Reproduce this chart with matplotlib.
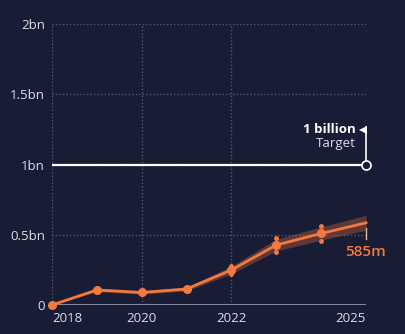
import matplotlib
matplotlib.use("Agg")
import matplotlib.pyplot as plt

years = [2018, 2019, 2020, 2021, 2022, 2023, 2024, 2025]
values = [0.0, 0.107, 0.089, 0.114, 0.249, 0.427, 0.509, 0.585]
band_low = [0.0, 0.095, 0.077, 0.100, 0.222, 0.385, 0.462, 0.532]
band_high = [0.0, 0.119, 0.101, 0.128, 0.276, 0.469, 0.556, 0.638]
err_years = [2022, 2023, 2024]
err_low = [0.220, 0.380, 0.456]
err_high = [0.280, 0.474, 0.562]
target = 1.0
y_ticks = [0, 0.5, 1, 1.5, 2]
y_labels = ["0", "0.5bn", "1bn", "1.5bn", "2bn"]
x_ticks = [2018, 2020, 2022, 2025]
x_labels = ["2018", "2020", "2022", "2025"]

BG = "#181c35"
ORANGE = "#f4793e"
TXT = "#dcdfe8"
GRID = "#50577a"

plt.rcParams["font.family"] = ["Open Sans", "DejaVu Sans"]

fig = plt.figure(figsize=(4.06, 3.34), dpi=100, facecolor=BG)
ax = fig.add_axes([52/406, 29/334, 314/406, 281/334], facecolor=BG)
ax.set_xlim(2018, 2025)
ax.set_ylim(0, 2)
for s in ax.spines.values():
    s.set_visible(False)

for yt in y_ticks[1:]:
    ax.axhline(yt, color=GRID, lw=1, ls=(0, (1, 1.5)), zorder=1)
for xt in x_ticks:
    ax.axvline(xt, color=GRID, lw=1, ls=(0, (1, 1.5)), zorder=1)
ax.axhline(0, color="#858898", lw=1.5, zorder=2)

ax.set_yticks(y_ticks)
ax.set_yticklabels(y_labels)
ax.set_xticks(x_ticks)
ax.set_xticklabels(x_labels)
ax.tick_params(length=0, colors=TXT, labelsize=9.5)
ax.tick_params(axis="y", pad=5)
ax.tick_params(axis="x", pad=5)
xl = ax.get_xticklabels()
xl[0].set_ha("left")
xl[-1].set_ha("right")

# target line
ax.plot([years[0], years[-1]], [target, target], color="white", lw=1.6, zorder=3)
ax.plot([2025, 2025], [target, 1.27], color="white", lw=1.2, zorder=3, clip_on=False)
ax.plot([2024.935], [1.245], marker="<", color="white", ms=6, zorder=4, clip_on=False,
        markeredgewidth=0)
ax.plot([2025], [target], marker="o", ms=6.5, mfc=BG, mec="white", mew=1.2,
        zorder=5, clip_on=False)
ax.text(2024.78, 1.252, "1 billion", color="white", fontsize=9.5, fontweight="bold",
        ha="right", va="center")
ax.text(2024.78, 1.148, "Target", color=TXT, fontsize=9.5, ha="right", va="center")

# band and line
ax.fill_between(years, band_low, band_high, color="#a4553c", alpha=0.5, lw=0, zorder=3)
ax.plot(years, values, color=ORANGE, lw=2, zorder=4, clip_on=False)
ax.plot(years[:-1], values[:-1], "o", color=ORANGE, ms=5.5, zorder=5, clip_on=False)
ax.plot(err_years, err_low, "o", color=ORANGE, ms=2.5, zorder=5)
ax.plot(err_years, err_high, "o", color=ORANGE, ms=2.5, zorder=5)

ax.plot([2025, 2025], [0.47, 0.545], color="#e8b49a", lw=1, zorder=4, clip_on=False)
ax.text(2025, 0.375, "585m", color=ORANGE, fontsize=11, fontweight="semibold",
        ha="center", va="center", clip_on=False)

fig.savefig("out.png", dpi=100, facecolor=BG)
